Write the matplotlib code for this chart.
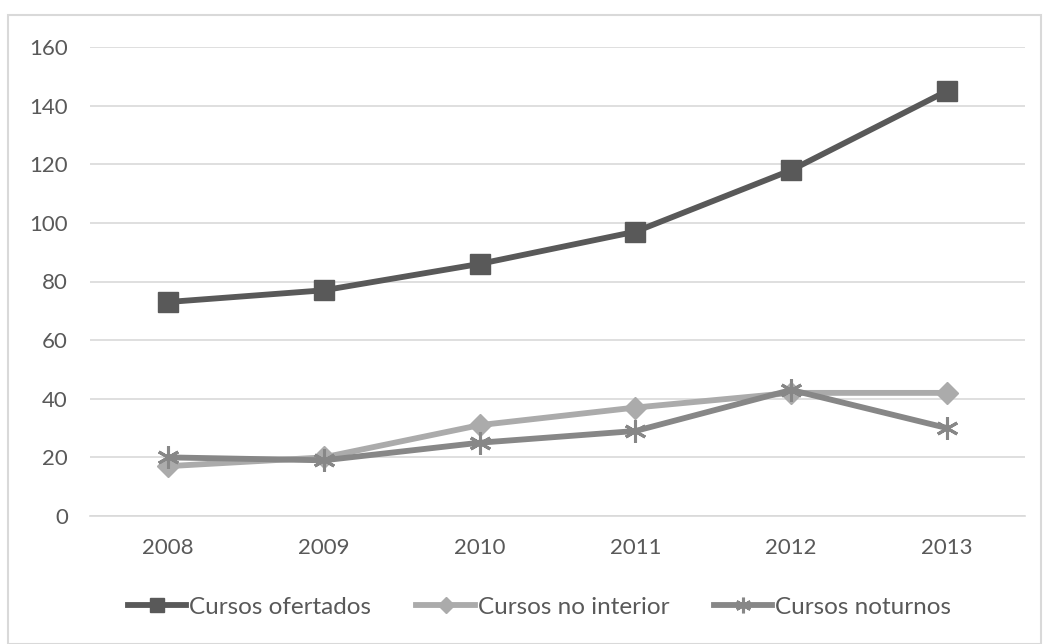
import matplotlib
matplotlib.use("Agg")
import matplotlib.pyplot as plt
from matplotlib.patches import Rectangle

# Data
years = ["2008", "2009", "2010", "2011", "2012", "2013"]
cursos_ofertados = [73, 77, 86, 97, 118, 145]
cursos_interior = [17, 20, 31, 37, 42, 42]
cursos_noturnos = [20, 19, 25, 29, 43, 30]
y_ticks = [0, 20, 40, 60, 80, 100, 120, 140, 160]

plt.rcParams["font.family"] = ["Liberation Sans Narrow", "Lato", "DejaVu Sans"]
text_color = "#595959"

fig = plt.figure(figsize=(10.43, 6.44), dpi=100)
fig.patches.append(Rectangle((8 / 1043, 0.0), 1.0 - 8 / 1043 - 2 / 1043, 1 - 15 / 644,
                             transform=fig.transFigure, fill=False,
                             edgecolor="#d9d9d9", linewidth=1.5))

ax = fig.add_axes([90 / 1043, 1 - 516 / 644, 935 / 1043, 469 / 644])
x = range(len(years))

ax.plot(x, cursos_ofertados, color="#595959", lw=4.2, marker="s", ms=15,
        label="Cursos ofertados", zorder=3)
ax.plot(x, cursos_interior, color="#ababab", lw=4.2, marker="D", ms=11,
        label="Cursos no interior", zorder=3)
ax.plot(x, cursos_noturnos, color="#878787", lw=4.2, marker=(6, 2, 0), ms=16,
        mew=2.2, label="Cursos noturnos", zorder=4)

ax.set_xlim(-0.5, len(years) - 0.5)
ax.set_ylim(0, 160)
ax.set_yticks(y_ticks)
ax.set_xticks(list(x))
ax.set_xticklabels(years)
ax.grid(axis="y", color="#d9d9d9", lw=1.2)
ax.set_axisbelow(True)
for side in ["top", "right", "left"]:
    ax.spines[side].set_visible(False)
ax.spines["bottom"].set_color("#d9d9d9")
ax.spines["bottom"].set_linewidth(1.2)
ax.tick_params(axis="both", length=0, labelsize=16, colors=text_color)
ax.tick_params(axis="y", pad=16)
ax.tick_params(axis="x", pad=16)

leg = ax.legend(loc="center", bbox_to_anchor=(0.481, -0.195), ncol=3,
                frameon=False, fontsize=17.5, handlelength=2.4, handletextpad=0.12,
                columnspacing=1.85, markerscale=0.7)
for t in leg.get_texts():
    t.set_color(text_color)

fig.savefig("out.png", dpi=100)
